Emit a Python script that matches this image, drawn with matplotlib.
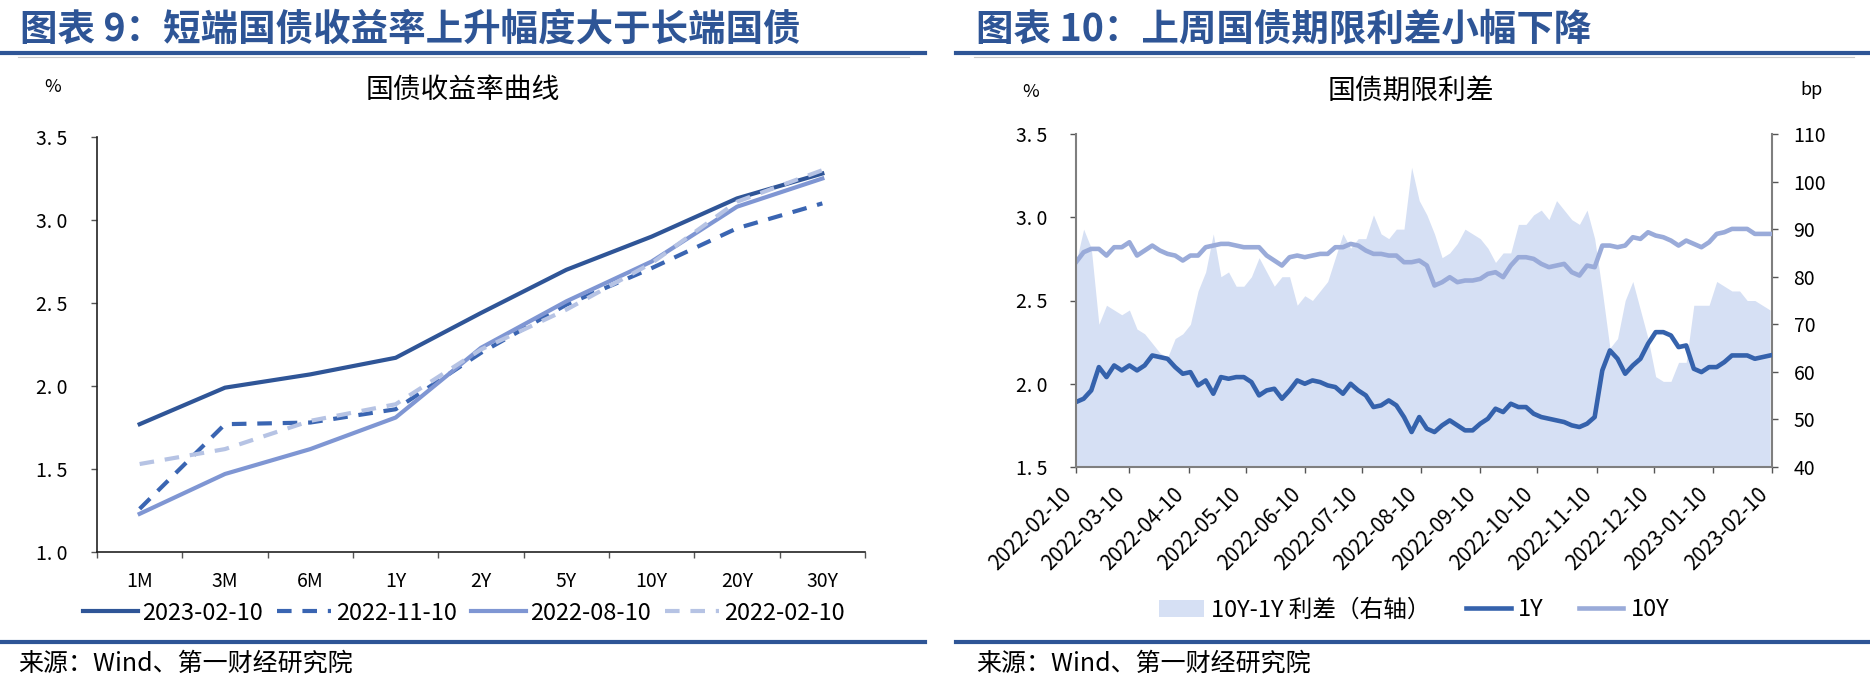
import numpy as np
import pandas as pd
import matplotlib
matplotlib.use('Agg')
import matplotlib.pyplot as plt
from matplotlib.lines import Line2D
from matplotlib.patches import Patch
from matplotlib.ticker import FuncFormatter

plt.rcParams['font.family'] = ['Noto Sans CJK SC', 'DejaVu Sans']

# ---- left chart: yield curves ----
tenors = ['1M', '3M', '6M', '1Y', '2Y', '5Y', '10Y', '20Y', '30Y']
curve_dates = ['2023-02-10', '2022-11-10', '2022-08-10', '2022-02-10']
y_20230210 = [1.77, 1.99, 2.07, 2.17, 2.44, 2.70, 2.90, 3.13, 3.28]
y_20221110 = [1.26, 1.77, 1.78, 1.86, 2.20, 2.49, 2.71, 2.95, 3.10]
y_20220810 = [1.23, 1.47, 1.62, 1.81, 2.23, 2.51, 2.75, 3.08, 3.25]
y_20220210 = [1.53, 1.62, 1.79, 1.89, 2.22, 2.46, 2.74, 3.11, 3.30]

# ---- right chart: 1Y / 10Y yields and spread, sampled every 4 days ----
start_date = '2022-02-10'
end_date = '2023-02-10'
one_y = [1.89, 1.91, 1.96, 2.10, 2.04, 2.11, 2.08, 2.11, 2.08, 2.11,
         2.17, 2.16, 2.15, 2.10, 2.06, 2.07, 1.99, 2.02, 1.94, 2.04,
         2.03, 2.04, 2.04, 2.01, 1.93, 1.96, 1.97, 1.91, 1.96, 2.02,
         2.00, 2.02, 2.01, 1.99, 1.98, 1.94, 2.00, 1.96, 1.93, 1.86,
         1.87, 1.90, 1.87, 1.80, 1.71, 1.80, 1.73, 1.71, 1.75, 1.78,
         1.75, 1.72, 1.72, 1.76, 1.79, 1.85, 1.83, 1.88, 1.86, 1.86,
         1.82, 1.80, 1.79, 1.78, 1.77, 1.75, 1.74, 1.76, 1.80, 2.08,
         2.20, 2.15, 2.06, 2.11, 2.15, 2.24, 2.31, 2.31, 2.29, 2.22,
         2.23, 2.09, 2.07, 2.10, 2.10, 2.13, 2.17, 2.17, 2.17, 2.15,
         2.16, 2.17]
ten_y = [2.73, 2.79, 2.81, 2.81, 2.77, 2.82, 2.82, 2.85, 2.77, 2.80,
         2.83, 2.80, 2.78, 2.77, 2.74, 2.77, 2.77, 2.82, 2.83, 2.84,
         2.84, 2.83, 2.82, 2.82, 2.82, 2.77, 2.74, 2.71, 2.76, 2.77,
         2.76, 2.77, 2.78, 2.78, 2.82, 2.82, 2.84, 2.83, 2.80, 2.78,
         2.78, 2.77, 2.77, 2.73, 2.73, 2.74, 2.71, 2.59, 2.61, 2.64,
         2.61, 2.62, 2.62, 2.63, 2.66, 2.67, 2.64, 2.71, 2.76, 2.76,
         2.75, 2.72, 2.70, 2.71, 2.72, 2.67, 2.65, 2.71, 2.70, 2.83,
         2.83, 2.82, 2.83, 2.88, 2.87, 2.91, 2.89, 2.88, 2.86, 2.83,
         2.86, 2.84, 2.82, 2.85, 2.90, 2.91, 2.93, 2.93, 2.93, 2.90,
         2.90, 2.90]
spread_bp = [83, 90, 86, 70, 74, 73, 72, 73, 69, 68,
             66, 64, 63, 67, 68, 70, 77, 81, 89, 80,
             81, 78, 78, 80, 84, 81, 78, 80, 80, 74,
             76, 75, 77, 79, 84, 89, 86, 88, 88, 93,
             89, 88, 90, 90, 103, 96, 93, 89, 84, 85,
             87, 90, 89, 88, 86, 83, 85, 85, 91, 91,
             93, 94, 92, 96, 94, 92, 91, 94, 88, 77,
             65, 67, 75, 79, 73, 67, 59, 58, 58, 62,
             62, 74, 74, 74, 79, 78, 77, 77, 75, 75,
             74, 73]

W, H = 1870, 684
BLUE = '#2E5596'


def fx(px):
    return px / W


def fy(py):
    return 1 - py / H


fig = plt.figure(figsize=(W / 100, H / 100), dpi=100)

# headers, rules and sources
fig.text(fx(20), fy(29), '图表 9：短端国债收益率上升幅度大于长端国债', fontsize=27,
         fontweight='bold', color=BLUE, va='center', ha='left')
fig.text(fx(976), fy(29), '图表 10：上周国债期限利差小幅下降', fontsize=27,
         fontweight='bold', color=BLUE, va='center', ha='left')
for x0, x1 in [(0, 925), (956, 1870)]:
    fig.add_artist(Line2D([fx(x0), fx(x1)], [fy(53), fy(53)], lw=3, color=BLUE))
    fig.add_artist(Line2D([fx(x0 + 18), fx(x1 - 16)], [fy(57), fy(57)], lw=0.8, color='#C8C8C8'))
    fig.add_artist(Line2D([fx(x0), fx(x1)], [fy(642), fy(642)], lw=3, color=BLUE))
fig.text(fx(18), fy(664), '来源：Wind、第一财经研究院', fontsize=18, va='center', ha='left')
fig.text(fx(976), fy(664), '来源：Wind、第一财经研究院', fontsize=18, va='center', ha='left')


def dot_fmt(v, pos):
    return f'{v:.1f}'.replace('.', '. ')


# ---------------- left chart ----------------
ax1 = fig.add_axes([fx(97), fy(552), fx(865) - fx(97), fy(137) - fy(552)])
x = np.arange(len(tenors))
c_dark = '#2F5597'
c_dash = '#3A65B2'
c_mid = '#7F96D3'
c_light = '#B6C3E4'
ax1.plot(x, y_20230210, color=c_dark, lw=3.0, label=curve_dates[0])
ax1.plot(x, y_20221110, color=c_dash, lw=3.0, dashes=(3.5, 2.6), label=curve_dates[1])
ax1.plot(x, y_20220810, color=c_mid, lw=3.0, label=curve_dates[2])
ax1.plot(x, y_20220210, color=c_light, lw=3.0, dashes=(3.5, 2.6), label=curve_dates[3])

ax1.set_xlim(-0.5, len(tenors) - 0.5)
ax1.set_ylim(1.0, 3.5)
ax1.set_xticks(x)
ax1.set_xticklabels(tenors, fontsize=14)
ax1.set_xticks(np.arange(-0.5, len(tenors), 1), minor=True)
ax1.tick_params(axis='x', which='major', length=0, pad=14)
ax1.tick_params(axis='x', which='minor', length=4.5, width=1, color='#555555', direction='out')
ax1.set_yticks(np.arange(1.0, 3.51, 0.5))
ax1.yaxis.set_major_formatter(FuncFormatter(dot_fmt))
ax1.tick_params(axis='y', length=4.5, width=1, color='#555555', pad=17, labelsize=14)
for s in ['top', 'right']:
    ax1.spines[s].set_visible(False)
for s in ['left', 'bottom']:
    ax1.spines[s].set_color('#222222')
    ax1.spines[s].set_linewidth(1.2)
fig.text(fx(53), fy(87), '%', fontsize=13, ha='center', va='center')
fig.text(fx(463), fy(90), '国债收益率曲线', fontsize=20, ha='center', va='center')

h1, l1 = ax1.get_legend_handles_labels()
fig.legend(h1, l1, loc='center', bbox_to_anchor=(fx(464), fy(613)), ncol=4, frameon=False,
           fontsize=17, handlelength=2.3, handletextpad=0.2, columnspacing=0.6)

# ---------------- right chart ----------------
dates = pd.date_range(start_date, periods=len(one_y), freq='4D')
ax2 = fig.add_axes([fx(1076), fy(467), fx(1772) - fx(1076), fy(134) - fy(467)])
axr = ax2.twinx()
c_fill = '#D6E0F4'
c_1y = '#3562AC'
c_10y = '#9AABD9'
axr.fill_between(dates, 40, spread_bp, color=c_fill, lw=0)
ax2.set_zorder(axr.get_zorder() + 1)
ax2.patch.set_visible(False)
ax2.plot(dates, one_y, color=c_1y, lw=3.3)
ax2.plot(dates, ten_y, color=c_10y, lw=3.3)

ax2.set_xlim(pd.Timestamp(start_date), pd.Timestamp(end_date))
ax2.set_ylim(1.5, 3.5)
axr.set_ylim(40, 110)
ax2.set_yticks(np.arange(1.5, 3.51, 0.5))
ax2.yaxis.set_major_formatter(FuncFormatter(dot_fmt))
axr.set_yticks(np.arange(40, 111, 10))
month_ticks = pd.date_range(start_date, end_date, freq=pd.DateOffset(months=1))
ax2.set_xticks(month_ticks)
ax2.set_xticklabels([d.strftime('%Y-%m-%d') for d in month_ticks], rotation=45,
                    ha='right', fontsize=15)
ax2.tick_params(axis='x', length=4.5, width=1, color='#555555', pad=7)
ax2.tick_params(axis='y', length=4.5, width=1, color='#555555', pad=16, labelsize=14)
axr.tick_params(axis='y', length=4.5, width=1, color='#555555', pad=11, labelsize=14)
for a in (ax2, axr):
    a.spines['top'].set_visible(False)
    for s in ['left', 'right', 'bottom']:
        a.spines[s].set_color('#7F7F7F')
        a.spines[s].set_linewidth(1.5)
ax2.spines['right'].set_visible(False)
axr.spines['left'].set_visible(False)
axr.spines['bottom'].set_visible(False)

fig.text(fx(1031), fy(92), '%', fontsize=13, ha='center', va='center')
fig.text(fx(1812), fy(90), 'bp', fontsize=13, ha='center', va='center')
fig.text(fx(1411), fy(91), '国债期限利差', fontsize=20, ha='center', va='center')

h2 = [Patch(facecolor=c_fill, edgecolor='none'),
      Line2D([], [], color=c_1y, lw=3.3),
      Line2D([], [], color=c_10y, lw=3.3)]
l2 = ['10Y-1Y 利差（右轴）', '1Y', '10Y']
fig.legend(h2, l2, loc='center', bbox_to_anchor=(fx(1414), fy(610)), ncol=3, frameon=False,
           fontsize=17, handlelength=1.9, handletextpad=0.3, columnspacing=1.5)

fig.savefig('out.png', dpi=100)
